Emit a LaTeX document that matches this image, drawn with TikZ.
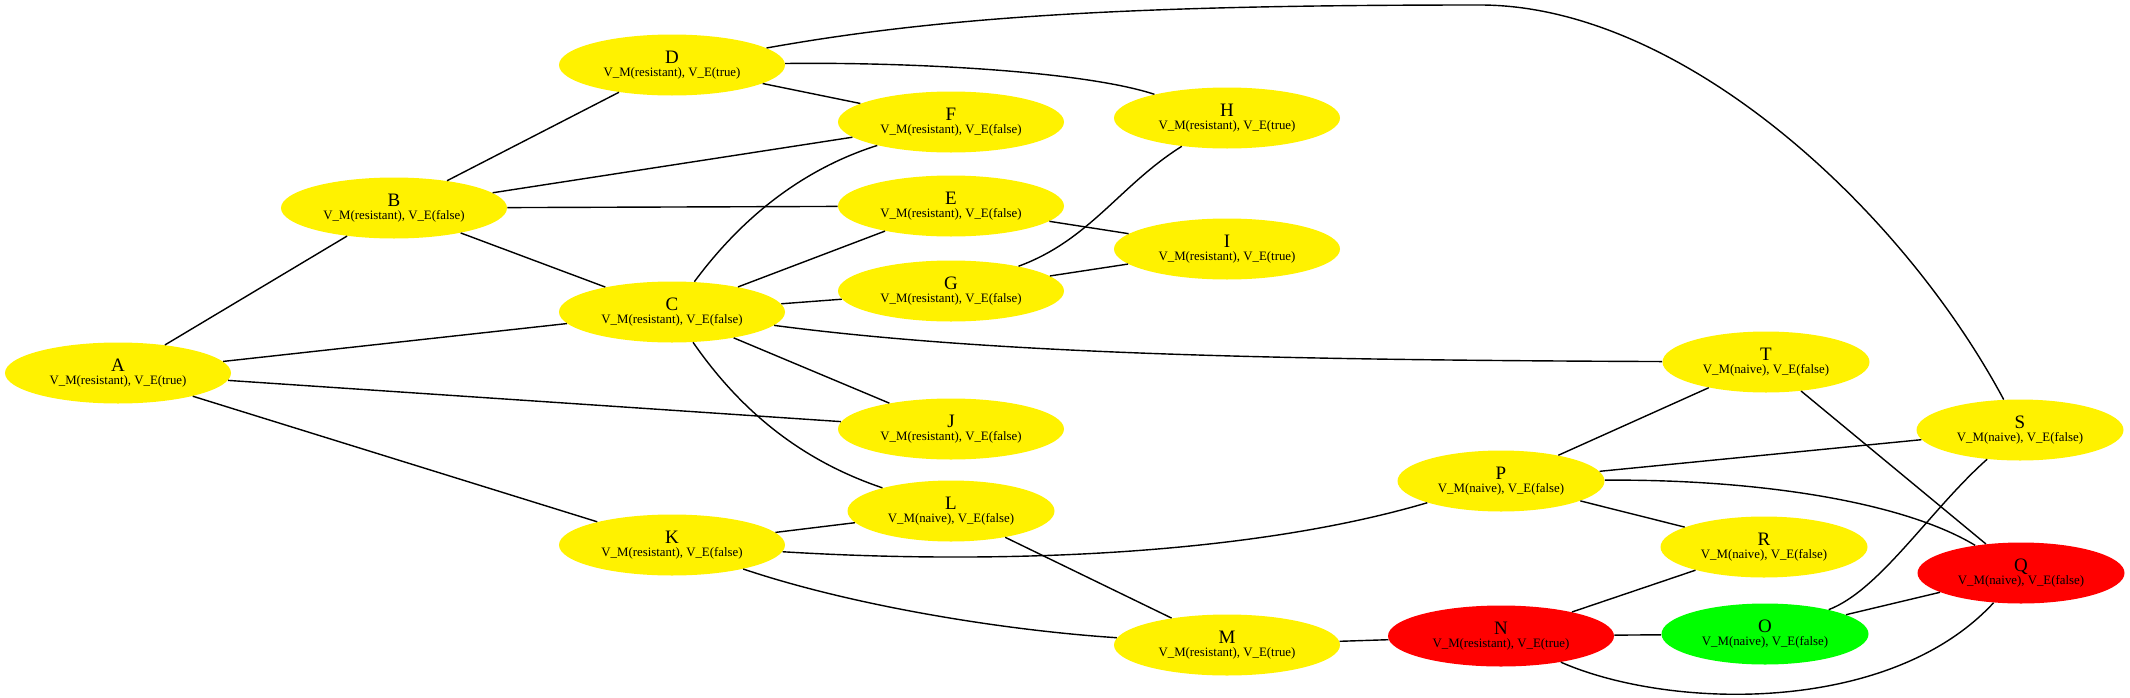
\documentclass[tikz,border=0pt]{standalone}
\usepackage{fontspec}
\setmainfont{Liberation Serif}
\usetikzlibrary{shapes.geometric}
\newcommand{\vstate}[2]{{\fontsize{7.3}{8}\selectfont V\_M(#1), V\_E(#2)}}

\begin{document}
\begin{tikzpicture}[
    state/.style={ellipse, fill=yellow, inner sep=0pt, minimum height=1.22cm,
        align=center, font=\fontsize{10.8}{12}\selectfont,
        execute at begin node={\rule{0pt}{11pt}}},
    res/.style={state, minimum width=4.52cm},
    nai/.style={state, minimum width=4.14cm},
    edge/.style={line width=0.8pt}]
                        % Frame:
                        \useasboundingbox (0,0) rectangle (42.6,-13.94);

                        % States:
                        \node[res] (A) at (2.36,-7.46) {A\\[-5pt]\vstate{resistant}{true}};
                        \node[res] (B) at (7.88,-4.16) {B\\[-5pt]\vstate{resistant}{false}};
                        \node[res] (C) at (13.44,-6.24) {C\\[-5pt]\vstate{resistant}{false}};
                        \node[res] (D) at (13.44,-1.30) {D\\[-5pt]\vstate{resistant}{true}};
                        \node[res] (E) at (19.02,-4.12) {E\\[-5pt]\vstate{resistant}{false}};
                        \node[res] (F) at (19.02,-2.44) {F\\[-5pt]\vstate{resistant}{false}};
                        \node[res] (G) at (19.02,-5.82) {G\\[-5pt]\vstate{resistant}{false}};
                        \node[res] (H) at (24.54,-2.36) {H\\[-5pt]\vstate{resistant}{true}};
                        \node[res] (I) at (24.54,-4.98) {I\\[-5pt]\vstate{resistant}{true}};
                        \node[res] (J) at (19.02,-8.58) {J\\[-5pt]\vstate{resistant}{false}};
                        \node[res] (K) at (13.44,-10.90) {K\\[-5pt]\vstate{resistant}{false}};
                        \node[nai] (L) at (19.02,-10.22) {L\\[-5pt]\vstate{naive}{false}};
                        \node[res] (M) at (24.54,-12.90) {M\\[-5pt]\vstate{resistant}{true}};
                        \node[res, fill=red] (N) at (30.02,-12.72) {N\\[-5pt]\vstate{resistant}{true}};
                        \node[nai, fill=green] (O) at (35.30,-12.68) {O\\[-5pt]\vstate{naive}{false}};
                        \node[nai] (P) at (30.02,-9.62) {P\\[-5pt]\vstate{naive}{false}};
                        \node[nai, fill=red] (Q) at (40.42,-11.46) {Q\\[-5pt]\vstate{naive}{false}};
                        \node[nai] (R) at (35.28,-10.94) {R\\[-5pt]\vstate{naive}{false}};
                        \node[nai] (S) at (40.40,-8.60) {S\\[-5pt]\vstate{naive}{false}};
                        \node[nai] (T) at (35.32,-7.24) {T\\[-5pt]\vstate{naive}{false}};

                        % Straight links:
                        \draw[edge] (A) -- (B);
                        \draw[edge] (A) -- (C);
                        \draw[edge] (A) -- (J);
                        \draw[edge] (A) -- (K);
                        \draw[edge] (B) -- (D);
                        \draw[edge] (B) -- (F);
                        \draw[edge] (B) -- (E);
                        \draw[edge] (B) -- (C);
                        \draw[edge] (C) -- (E);
                        \draw[edge] (C) -- (G);
                        \draw[edge] (C) -- (J);
                        \draw[edge] (D) -- (F);
                        \draw[edge] (E) -- (I);
                        \draw[edge] (G) -- (I);
                        \draw[edge] (K) -- (L);
                        \draw[edge] (L) -- (M);
                        \draw[edge] (M) -- (N);
                        \draw[edge] (N) -- (R);
                        \draw[edge] (N) -- (O);
                        \draw[edge] (P) -- (T);
                        \draw[edge] (P) -- (S);
                        \draw[edge] (P) -- (R);
                        \draw[edge] (O) -- (Q);
                        \draw[edge] (T) -- (Q);

                        % Curved links:
                        \draw[edge] (C) .. controls (14.8,-4.4) and (16.0,-3.4) .. (F);
                        \draw[edge] (C) .. controls (14.8,-8.2) and (16.0,-9.2) .. (L);
                        \draw[edge] (C) .. controls (20.0,-7.1) and (26.0,-7.2) .. (T);
                        \draw[edge] (D) .. controls (18.0,-1.24) and (21.6,-1.4) .. (H);
                        \draw[edge] (D) .. controls (19.0,-0.30) and (23.0,-0.10) .. (29.6,-0.10)
                                        .. controls (33.6,-0.10) and (38.0,-4.12) .. (S);
                        \draw[edge] (G) .. controls (21.8,-4.8) and (22.4,-3.7) .. (H);
                        \draw[edge] (K) .. controls (20.0,-11.3) and (25.0,-11.1) .. (P);
                        \draw[edge] (K) .. controls (17.0,-12.1) and (20.0,-12.6) .. (M);
                        \draw[edge] (N) .. controls (33.4,-14.2) and (37.8,-14.3) .. (Q);
                        \draw[edge] (P) .. controls (35.0,-9.58) and (38.0,-10.0) .. (Q);
                        \draw[edge] (O) .. controls (37.6,-11.8) and (38.6,-10.2) .. (S);
\end{tikzpicture}
\end{document}
